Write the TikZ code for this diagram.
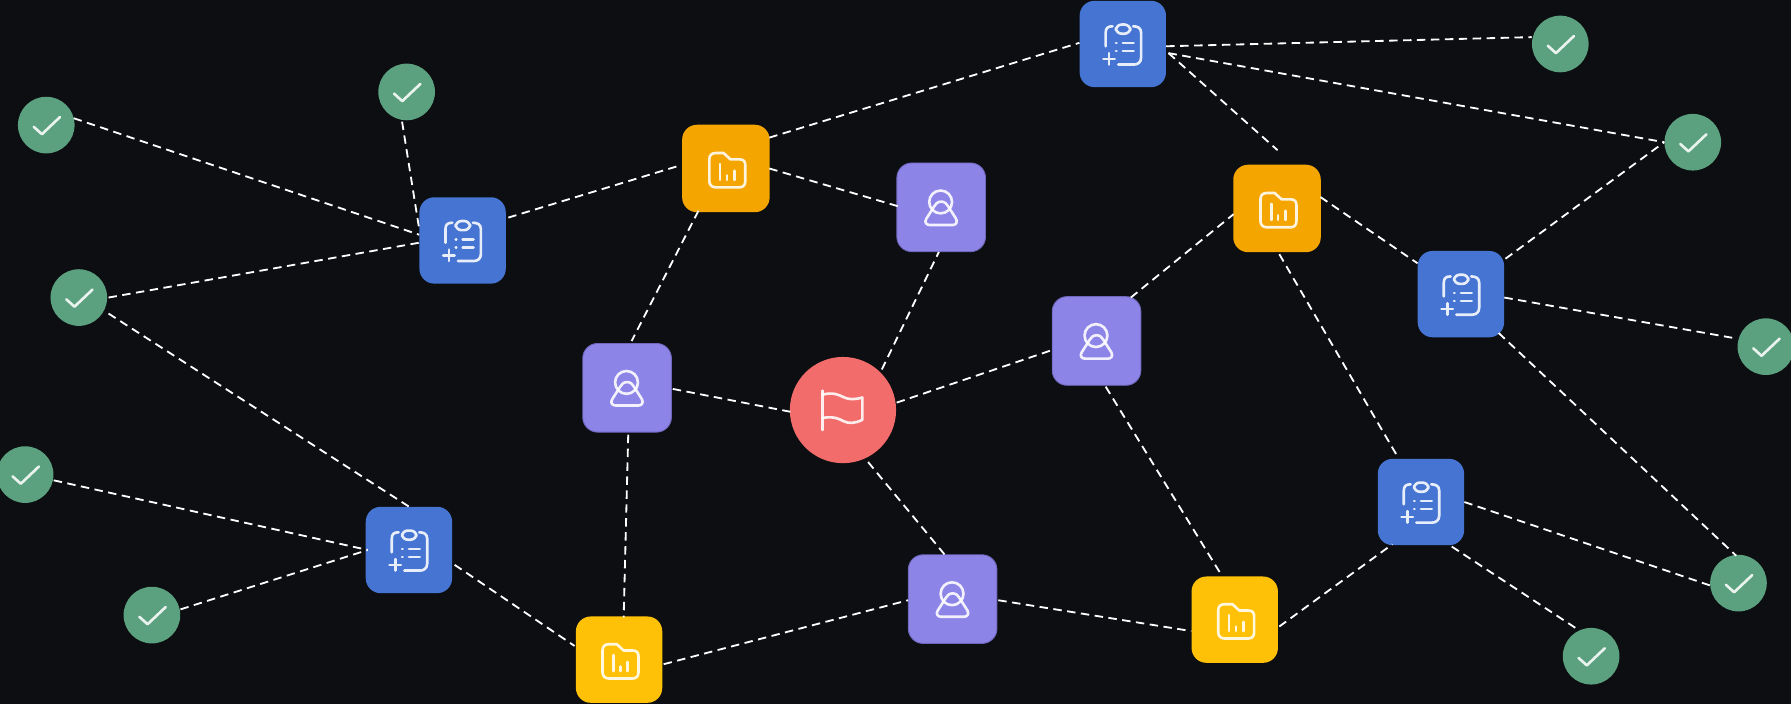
\documentclass[tikz,border=0pt]{standalone}
\definecolor{bgc}{HTML}{0C0E11}
\definecolor{bluec}{HTML}{4674D3}
\definecolor{orangec}{HTML}{F5A500}
\definecolor{yellowc}{HTML}{FFC107}
\definecolor{purplec}{HTML}{8D84E8}
\definecolor{purpleb}{HTML}{6F68BC}
\definecolor{redc}{HTML}{F36C6C}
\definecolor{greenc}{HTML}{5BA17F}
\newcommand{\lk}[6]{\draw[linkline] ([shift={(#2,#3)}]#1.center) -- ([shift={(#5,#6)}]#4.center);}
\tikzset{
  linkline/.style={draw=white,line width=0.8pt,dash pattern=on 3.7pt off 2.4pt},
  icon/.style={draw=white,draw opacity=0.88,line width=1.15pt,line cap=round,line join=round},
  box/.style={rectangle,rounded corners=6.5pt,inner sep=0pt,outer sep=0pt},
  bluebox/.style={box,fill=bluec,minimum size=37.8pt},
  orangebox/.style={box,fill=orangec,minimum size=38.3pt},
  yellowbox/.style={box,fill=yellowc,minimum size=37.8pt},
  purplebox/.style={box,fill=purplec,draw=purpleb,line width=0.4pt,minimum size=38.8pt},
  greendot/.style={circle,fill=greenc,inner sep=0pt,outer sep=0pt,minimum size=24.8pt},
  reddot/.style={circle,fill=redc,inner sep=0pt,outer sep=0pt,minimum size=46.5pt},
  checkicon/.pic={\draw[icon] (-11,1.5) -- (-3.8,8) -- (12,-7);},
  clipicon/.pic={
    \draw[icon] (-15,2) -- (-15,-10) .. controls (-15,-14) and (-13,-15.5) .. (-9,-15.5);
    \draw[icon] (9,-15.5) .. controls (13,-15.5) and (16,-14) .. (16,-10) -- (16,12) .. controls (16,16) and (13,18) .. (10,18) -- (-4,18);
    \draw[icon,rounded corners=2.5pt] (-6,-17) rectangle (6.5,-9);
    \draw[icon] (-17,13) -- (-7,13) (-12,8) -- (-12,18);
    \draw[icon] (-6,-1) -- (-5.5,-1) (-6,6) -- (-5.5,6) (0,-1) -- (9.5,-1) (0,6) -- (9.5,6);
  },
  foldericon/.pic={
    \draw[icon] (-14.5,-8) .. controls (-14.5,-12) and (-12,-13.5) .. (-9,-13.5) -- (-2,-13.5) -- (4,-8) -- (12,-8) .. controls (15.5,-8) and (17,-6) .. (17,-3) -- (17,11) .. controls (17,14.5) and (15,16.5) .. (12,16.5) -- (-9,16.5) .. controls (-12,16.5) and (-14.5,14.5) .. (-14.5,11) -- cycle;
    \draw[icon] (-5,-4) -- (-5,10) (1,6) -- (1,10) (7.5,2) -- (7.5,10);
  },
  personicon/.pic={
    \draw[icon] (-0.5,-4.7) circle[radius=5pt];
    \draw[icon] (0,-5) .. controls (-3,-5) and (-5,-3) .. (-6,-1) -- (-13,10) .. controls (-15,13) and (-13,15.5) .. (-10,15.5) -- (10,15.5) .. controls (13,15.5) and (14.5,13) .. (13,10) -- (6,-1) .. controls (5,-3) and (3,-5) .. (0,-5) -- cycle;
  },
  flagicon/.pic={
    \draw[icon] (-18,-17) -- (-18,17.5);
    \draw[icon] (-18,-13.5) .. controls (-8,-16) and (-3,-13) .. (0,-11.5) .. controls (5,-9) and (10,-9) .. (17,-11) -- (17,8.5) .. controls (10,12) and (5,12) .. (0,9.5) .. controls (-3,8) and (-8,5) .. (-18,7);
  }
}
\begin{document}
\begin{tikzpicture}[x=0.5pt,y=-0.5pt]
\useasboundingbox (0,-0.5) rectangle (1568,615.5);
\clip (0,-0.5) rectangle (1568,615.5);
\fill[bgc] (0,-0.5) rectangle (1568,615.5);
% nodes
\node[greendot] (c1) at (40.5,109) {};
\node[greendot] (c2) at (356,80) {};
\node[greendot] (c3) at (69,260) {};
\node[greendot] (c4) at (22,415) {};
\node[greendot] (c5) at (133,538) {};
\node[greendot] (c6) at (1366,38) {};
\node[greendot] (c7) at (1482,124) {};
\node[greendot] (c8) at (1546,303) {};
\node[greendot] (c9) at (1522,510) {};
\node[greendot] (c10) at (1393,574) {};
\node[bluebox] (b1) at (405,210) {};
\node[bluebox] (b2) at (983,38) {};
\node[bluebox] (b3) at (1279,257) {};
\node[bluebox] (b4) at (358,481) {};
\node[bluebox] (b5) at (1244,439) {};
\node[orangebox] (o1) at (635.5,147) {};
\node[orangebox] (o2) at (1118,182) {};
\node[yellowbox] (y1) at (542,577) {};
\node[yellowbox] (y2) at (1081,542) {};
\node[purplebox] (p1) at (824,181) {};
\node[purplebox] (p2) at (960,298) {};
\node[purplebox] (p3) at (549,339) {};
\node[purplebox] (p4) at (834,524) {};
\node[reddot] (r) at (738,358.5) {};
% connectors
\lk{c1}{24}{-6}{b1}{-38}{-5}
\lk{c2}{-4}{26}{b1}{-38}{-10}
\lk{c3}{26}{0}{b1}{-38}{2}
\lk{c3}{26}{14}{b4}{0}{-38}
\lk{c4}{25}{5}{b4}{-36}{0}
\lk{c5}{25}{-5}{b4}{-36}{0}
\lk{b4}{40}{13}{y1}{-39}{-12}
\lk{b1}{40}{-20}{o1}{-39}{-3}
\lk{o1}{38}{-27}{b2}{-38}{-1}
\lk{o1}{38}{0}{p1}{-38}{-1}
\lk{o1}{-24}{37}{p3}{4}{-41}
\lk{p3}{40}{1}{r}{-46}{1.5}
\lk{p3}{1}{41}{y1}{4}{-37}
\lk{r}{34}{-35.5}{p1}{-2}{39}
\lk{r}{47}{-6.5}{p2}{-39}{8}
\lk{r}{22}{45.5}{p4}{-7}{-39}
\lk{p4}{40}{1}{y2}{-38}{10}
\lk{y1}{39}{4}{p4}{-39}{1}
\lk{p2}{8}{40}{y2}{-11}{-38}
\lk{p2}{30}{-38}{o2}{-38}{5}
\lk{o2}{38}{-10}{b3}{-38}{-27}
\lk{o2}{2}{40}{b5}{-20}{-39}
\lk{b2}{40}{8}{o2}{0.5}{-51}
\lk{b2}{38}{2}{c6}{-25}{-6}
\lk{b2}{40}{8}{c7}{-25}{0}
\lk{b3}{39}{-31}{c7}{-25}{0}
\lk{b3}{38}{3}{c8}{-25}{-7}
\lk{b3}{33}{34}{c9}{-2}{-24}
\lk{y2}{39}{6}{b5}{-25}{37}
\lk{b5}{38}{0}{c9}{-25}{2}
\lk{b5}{27}{39}{c10}{-11}{-23}
% icons
\foreach \n in {c1,c2,c3,c4,c5,c6,c7,c8,c9,c10} {\pic at (\n) {checkicon};}
\foreach \n in {b1,b2,b3,b4,b5} {\pic at (\n) {clipicon};}
\foreach \n in {o1,o2,y1,y2} {\pic at (\n) {foldericon};}
\foreach \n in {p1,p2,p3,p4} {\pic at (\n) {personicon};}
\pic at (r) {flagicon};
\end{tikzpicture}
\end{document}
